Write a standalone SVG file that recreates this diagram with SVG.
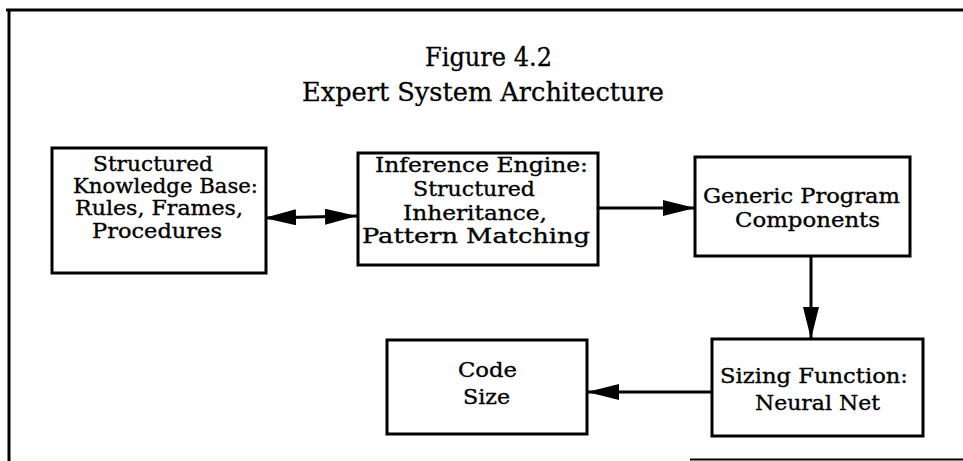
<svg xmlns="http://www.w3.org/2000/svg" width="963" height="461" viewBox="0 0 963 461">
<style>
.frame{stroke:#000;stroke-width:3;fill:none}
.box{fill:#fff;stroke:#000;stroke-width:3}
.t{font-family:"DejaVu Serif","Liberation Serif",serif;font-size:21px;fill:#000;stroke:#000;stroke-width:0.35}
.tc{font-family:"DejaVu Serif","Liberation Serif",serif;font-size:21px;fill:#000;stroke:#000;stroke-width:0.35}
.title{font-family:"DejaVu Serif","Liberation Serif",serif;font-size:26px;fill:#000;stroke:#000;stroke-width:0.3}
.conn{stroke:#000;stroke-width:3;fill:none}
</style>
<defs>
<marker id="ah" markerUnits="userSpaceOnUse" markerWidth="32" markerHeight="16" refX="32" refY="8" orient="auto-start-reverse" viewBox="0 0 32 16">
<path d="M0,0 L32,8 L0,16 z" fill="#000"/>
</marker>
</defs>
<g id="frame">
<line class="frame" x1="6" y1="10" x2="963" y2="10"/>
<line class="frame" x1="9" y1="10" x2="9" y2="461"/>
<line x1="690" y1="459.5" x2="963" y2="459.5" stroke="#000" stroke-width="2"/>
</g>
<g id="title">
<text class="title" x="425" y="66" textLength="127" lengthAdjust="spacingAndGlyphs">Figure 4.2</text>
<text class="title" x="302" y="101" textLength="362" lengthAdjust="spacingAndGlyphs">Expert System Architecture</text>
</g>
<g id="connectors">
<line class="conn" x1="264" y1="218" x2="357" y2="216" marker-start="url(#ah)" marker-end="url(#ah)"/>
<line class="conn" x1="598" y1="208" x2="695" y2="208" marker-end="url(#ah)"/>
<line class="conn" x1="811" y1="257" x2="811" y2="339" marker-end="url(#ah)"/>
<line class="conn" x1="712" y1="392" x2="587" y2="392" marker-end="url(#ah)"/>
</g>
<g id="kb">
<rect class="box" x="52" y="148" width="214" height="125"/>
<text class="t" x="93" y="171" textLength="120" lengthAdjust="spacingAndGlyphs">Structured</text>
<text class="t" x="73" y="193" textLength="185" lengthAdjust="spacingAndGlyphs">Knowledge Base:</text>
<text class="t" x="75" y="215" textLength="168" lengthAdjust="spacingAndGlyphs">Rules, Frames,</text>
<text class="t" x="92" y="238" textLength="130" lengthAdjust="spacingAndGlyphs">Procedures</text>
</g>
<g id="ie">
<rect class="box" x="358" y="153" width="240" height="112"/>
<text class="t" x="375" y="172" textLength="213" lengthAdjust="spacingAndGlyphs">Inference Engine:</text>
<text class="t" x="413" y="196" textLength="122" lengthAdjust="spacingAndGlyphs">Structured</text>
<text class="t" x="403" y="220" textLength="144" lengthAdjust="spacingAndGlyphs">Inheritance,</text>
<text class="t" x="362" y="243" textLength="228" lengthAdjust="spacingAndGlyphs">Pattern Matching</text>
</g>
<g id="gpc">
<rect class="box" x="695" y="157" width="215" height="99"/>
<text class="t" x="703" y="203" textLength="197" lengthAdjust="spacingAndGlyphs">Generic Program</text>
<text class="t" x="735" y="227" textLength="145" lengthAdjust="spacingAndGlyphs">Components</text>
</g>
<g id="sizing">
<rect class="box" x="712" y="339" width="211" height="97"/>
<text class="tc" x="720" y="383" textLength="188" lengthAdjust="spacingAndGlyphs">Sizing Function:</text>
<text class="tc" x="755" y="410" textLength="125" lengthAdjust="spacingAndGlyphs">Neural Net</text>
</g>
<g id="code">
<rect class="box" x="387" y="340" width="200" height="94"/>
<text class="tc" x="458" y="377" textLength="59" lengthAdjust="spacingAndGlyphs">Code</text>
<text class="tc" x="463" y="404" textLength="47" lengthAdjust="spacingAndGlyphs">Size</text>
</g>
</svg>
